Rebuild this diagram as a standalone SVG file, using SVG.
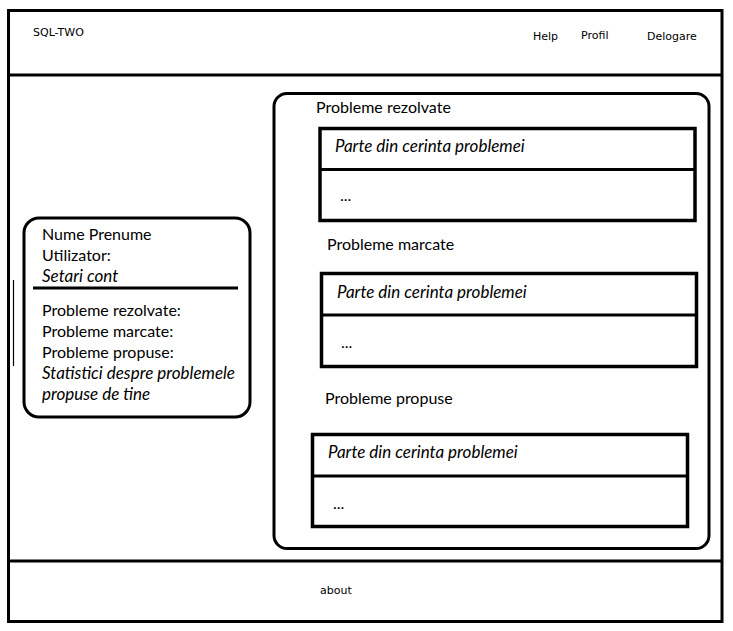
<svg xmlns="http://www.w3.org/2000/svg" width="733" height="631" viewBox="0 0 733 631">
<style>
.ln{stroke:#000;stroke-width:3;fill:none}
.bx{stroke:#000;stroke-width:3.5;fill:#fff}
.t{font-family:Lato,"Open Sans","Liberation Sans",sans-serif;font-size:16px;fill:#000}
.i{font-style:italic;font-size:17px}
.s{font-family:"DejaVu Sans","Liberation Sans",sans-serif;font-size:11px;fill:#000}
</style>
<rect width="733" height="631" fill="#fff"/>
<g id="frame">
<rect x="8.5" y="10.5" width="713.5" height="611" class="ln"/>
<line x1="8" y1="75" x2="722" y2="75" class="ln"/>
<line x1="8" y1="561" x2="722" y2="561" class="ln"/>
<line x1="13.5" y1="280" x2="13.5" y2="366" stroke="#000" stroke-width="1.2"/>
</g>
<g id="header">
<text x="33" y="36" class="s">SQL-TWO</text>
<text x="533" y="40" class="s">Help</text>
<text x="581" y="39" class="s">Profil</text>
<text x="647" y="40" class="s">Delogare</text>
</g>
<g id="user-card">
<rect x="24" y="218" width="226" height="199" rx="15" class="ln"/>
<line x1="33" y1="288" x2="238" y2="288" class="ln"/>
<text x="42" y="240" class="t">Nume Prenume</text>
<text x="42" y="261" class="t">Utilizator:</text>
<text x="42" y="282" class="t i">Setari cont</text>
<text x="42" y="316" class="t">Probleme rezolvate:</text>
<text x="42" y="337" class="t">Probleme marcate:</text>
<text x="42" y="358" class="t">Probleme propuse:</text>
<text x="42" y="379" class="t i">Statistici despre problemele</text>
<text x="42" y="400" class="t i">propuse de tine</text>
</g>
<g id="problems-panel">
<rect x="274" y="93.5" width="435" height="455" rx="13" class="ln"/>
<text x="316" y="113" class="t">Probleme rezolvate</text>
<text x="327" y="250" class="t">Probleme marcate</text>
<text x="325" y="404" class="t">Probleme propuse</text>
</g>
<g id="box-rezolvate">
<rect x="320" y="128.5" width="375" height="92" class="bx"/>
<line x1="320" y1="169.5" x2="695" y2="169.5" class="ln"/>
<text x="335" y="152" class="t i">Parte din cerinta problemei</text>
<text x="340" y="201" class="t">...</text>
</g>
<g id="box-marcate">
<rect x="321.5" y="273.5" width="375" height="93" class="bx"/>
<line x1="321" y1="315" x2="697" y2="315" class="ln"/>
<text x="337" y="298" class="t i">Parte din cerinta problemei</text>
<text x="341" y="348" class="t">...</text>
</g>
<g id="box-propuse">
<rect x="312.5" y="434.5" width="375" height="92" class="bx"/>
<line x1="312" y1="476" x2="688" y2="476" class="ln"/>
<text x="328" y="458" class="t i">Parte din cerinta problemei</text>
<text x="333" y="509" class="t">...</text>
</g>
<g id="footer">
<text x="320" y="594" class="s">about</text>
</g>
<g id="connectors"></g>
</svg>
